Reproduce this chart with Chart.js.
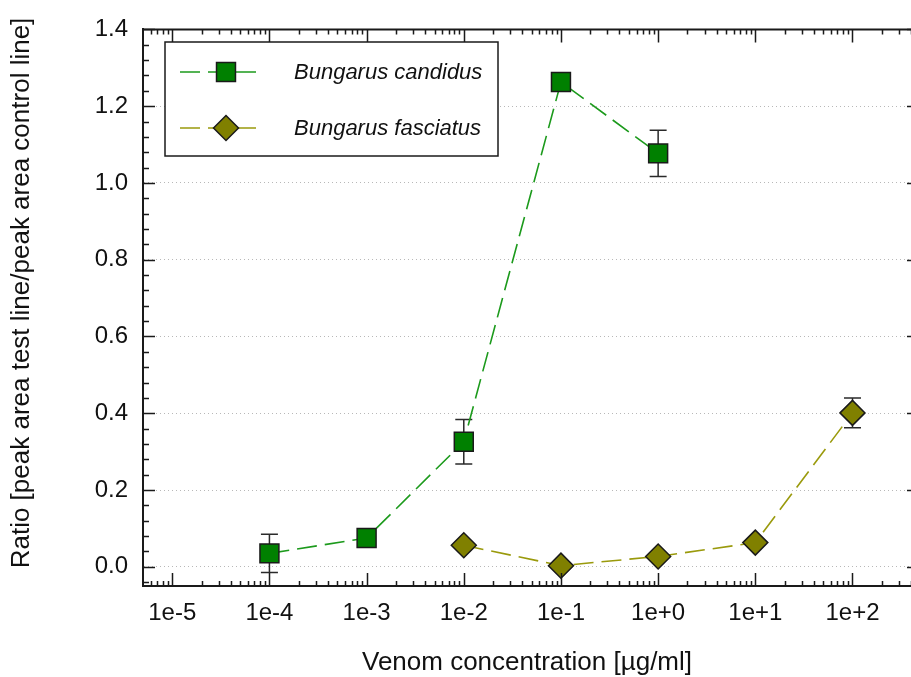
<!DOCTYPE html>
<html>
<head>
<meta charset="utf-8">
<script src="https://cdn.jsdelivr.net/npm/chart.js@4"></script>
<style>
    html, body { margin: 0; padding: 0; overflow: hidden; background: #fff; }
    canvas { display: block; }
</style>
</head>
<body>
<canvas id="ratioChart" width="911" height="677"></canvas>
<script>
// data
const candidusConc = [1e-4, 1e-3, 1e-2, 1e-1, 1];
const candidusRatio = [0.035, 0.075, 0.326, 1.263, 1.077];
const candidusErr = [0.05, 0.005, 0.058, 0.005, 0.06];

const fasciatusConc = [1e-2, 1e-1, 1, 10, 100];
const fasciatusRatio = [0.056, 0.003, 0.027, 0.063, 0.401];
const fasciatusErr = [0.005, 0.005, 0.005, 0.005, 0.039];

const xTickValues = [1e-5, 1e-4, 1e-3, 1e-2, 1e-1, 1, 10, 100];
const xTickLabels = ['1e-5', '1e-4', '1e-3', '1e-2', '1e-1', '1e+0', '1e+1', '1e+2'];
const yTickValues = [0, 0.2, 0.4, 0.6, 0.8, 1.0, 1.2, 1.4];

const yTitle = 'Ratio [peak area test line/peak area control line]';

const toPoints = (xs, ys) => xs.map((x, i) => ({x: x, y: ys[i]}));

const axisColor = '#1a1a1a';
const fontFamily = '"Liberation Sans", Arial, sans-serif';

// error bars, drawn under the markers
const errorBars = {
    id: 'errorBars',
    beforeDatasetsDraw(chart) {
        const ctx = chart.ctx;
        const y = chart.scales.y;
        chart.data.datasets.forEach((ds, i) => {
            const meta = chart.getDatasetMeta(i);
            ctx.save();
            ctx.strokeStyle = '#2a2a2a';
            ctx.lineWidth = 1.5;
            meta.data.forEach((pt, j) => {
                const v = ds.data[j].y;
                const e = ds.errors[j];
                const top = y.getPixelForValue(v + e);
                const bot = y.getPixelForValue(v - e);
                ctx.beginPath();
                ctx.moveTo(pt.x, top);
                ctx.lineTo(pt.x, bot);
                ctx.moveTo(pt.x - 8.5, top);
                ctx.lineTo(pt.x + 8.5, top);
                ctx.moveTo(pt.x - 8.5, bot);
                ctx.lineTo(pt.x + 8.5, bot);
                ctx.stroke();
            });
            ctx.restore();
        });
    }
};

// frame, inward tick marks and the y title
const frameTicks = {
    id: 'frameTicks',
    afterDraw(chart) {
        const ctx = chart.ctx;
        const {left, right, top, bottom} = chart.chartArea;
        const x = chart.scales.x;
        const y = chart.scales.y;
        ctx.save();
        ctx.strokeStyle = axisColor;
        ctx.lineWidth = 2;
        ctx.beginPath();
        ctx.moveTo(left, top);
        ctx.lineTo(right, top);
        ctx.stroke();

        ctx.lineWidth = 1.5;
        ctx.beginPath();
        for (let d = -6; d <= 2; d++) {
            for (let k = 1; k <= 9; k++) {
                const v = k * Math.pow(10, d);
                if (v < x.min || v > x.max) continue;
                const px = Math.round(x.getPixelForValue(v)) + 0.5;
                const len = k === 1 ? 13 : 5;
                ctx.moveTo(px, bottom);
                ctx.lineTo(px, bottom - len);
                ctx.moveTo(px, top);
                ctx.lineTo(px, top + len);
            }
        }
        for (let i = -1; i <= 35; i++) {
            const v = i * 0.04;
            if (v < y.min - 1e-9 || v > y.max + 1e-9) continue;
            const py = Math.round(y.getPixelForValue(v)) + 0.5;
            const major = i % 5 === 0;
            ctx.moveTo(left, py);
            ctx.lineTo(left + (major ? 12 : 6), py);
            if (major) {
                ctx.moveTo(right, py);
                ctx.lineTo(right - 4, py);
            }
        }
        ctx.stroke();

        ctx.translate(22, 293);
        ctx.rotate(-Math.PI / 2);
        ctx.fillStyle = '#111';
        ctx.font = '26px ' + fontFamily;
        ctx.textAlign = 'center';
        ctx.textBaseline = 'middle';
        ctx.fillText(yTitle, 0, 0);
        ctx.restore();
    }
};

// boxed legend with line + marker samples
const boxLegend = {
    id: 'boxLegend',
    afterDraw(chart) {
        const ctx = chart.ctx;
        const bx = 165, by = 42, bw = 333, bh = 114;
        ctx.save();
        ctx.fillStyle = '#fff';
        ctx.fillRect(bx, by, bw, bh);
        ctx.strokeStyle = axisColor;
        ctx.lineWidth = 1.5;
        ctx.strokeRect(bx, by, bw, bh);
        chart.data.datasets.forEach((ds, i) => {
            const cy = by + 30 + i * 56;
            ctx.strokeStyle = ds.borderColor;
            ctx.lineWidth = ds.borderWidth;
            ctx.setLineDash(ds.borderDash);
            ctx.beginPath();
            ctx.moveTo(180, cy);
            ctx.lineTo(264, cy);
            ctx.stroke();
            ctx.setLineDash([]);
            ctx.fillStyle = ds.pointBackgroundColor;
            ctx.strokeStyle = ds.pointBorderColor;
            ctx.lineWidth = ds.pointBorderWidth;
            Chart.helpers.drawPoint(ctx, {
                pointStyle: ds.pointStyle,
                radius: ds.pointRadius,
                rotation: 0,
                borderWidth: ds.pointBorderWidth
            }, 226, cy);
            ctx.fillStyle = '#111';
            ctx.font = 'italic 22px ' + fontFamily;
            ctx.textAlign = 'left';
            ctx.textBaseline = 'middle';
            ctx.fillText(ds.label, 294, cy + 1);
        });
        ctx.restore();
    }
};

new Chart(document.getElementById('ratioChart'), {
    type: 'scatter',
    data: {
        datasets: [{
            label: 'Bungarus candidus',
            data: toPoints(candidusConc, candidusRatio),
            errors: candidusErr,
            showLine: true,
            borderColor: '#1c9a1c',
            borderWidth: 1.6,
            borderDash: [20, 8],
            pointStyle: 'rect',
            pointRadius: 13.4,
            pointBackgroundColor: '#008000',
            pointBorderColor: '#1a1a1a',
            pointBorderWidth: 1.5
        }, {
            label: 'Bungarus fasciatus',
            data: toPoints(fasciatusConc, fasciatusRatio),
            errors: fasciatusErr,
            showLine: true,
            borderColor: '#9a9a0c',
            borderWidth: 1.6,
            borderDash: [20, 8],
            pointStyle: 'rectRot',
            pointRadius: 12.5,
            pointBackgroundColor: '#808000',
            pointBorderColor: '#1a1a1a',
            pointBorderWidth: 1.5
        }]
    },
    options: {
        responsive: false,
        animation: false,
        events: [],
        layout: {autoPadding: false, padding: {top: 24, left: 0, right: 0, bottom: 0}},
        plugins: {
            legend: {display: false},
            tooltip: {enabled: false}
        },
        scales: {
            x: {
                type: 'logarithmic',
                min: 5e-6,
                max: 400,
                afterBuildTicks: scale => {
                    scale.ticks = xTickValues.map(v => ({value: v}));
                },
                afterFit: scale => {
                    scale.height = 91;
                    scale.paddingLeft = 0;
                    scale.paddingRight = 0;
                },
                grid: {display: false, drawTicks: false},
                border: {display: true, color: axisColor, width: 2},
                ticks: {
                    autoSkip: false,
                    maxRotation: 0,
                    padding: 13,
                    color: '#111',
                    font: {family: fontFamily, size: 24},
                    callback: (value, index) => xTickLabels[index]
                },
                title: {
                    display: true,
                    text: 'Venom concentration [µg/ml]',
                    color: '#111',
                    font: {family: fontFamily, size: 26, lineHeight: 1.2},
                    padding: {top: 0, bottom: -1}
                }
            },
            y: {
                min: -0.05,
                max: 1.4,
                afterBuildTicks: scale => {
                    scale.ticks = yTickValues.map(v => ({value: v}));
                },
                afterFit: scale => { scale.width = 143; },
                grid: {color: '#b8b8b8', lineWidth: 1, drawTicks: false},
                border: {display: true, color: axisColor, width: 2, dash: [1, 3]},
                ticks: {
                    padding: 15,
                    color: '#111',
                    font: {family: fontFamily, size: 24},
                    callback: value => value.toFixed(1)
                },
                title: {display: false}
            }
        }
    },
    plugins: [errorBars, frameTicks, boxLegend]
});
</script>
</body>
</html>
